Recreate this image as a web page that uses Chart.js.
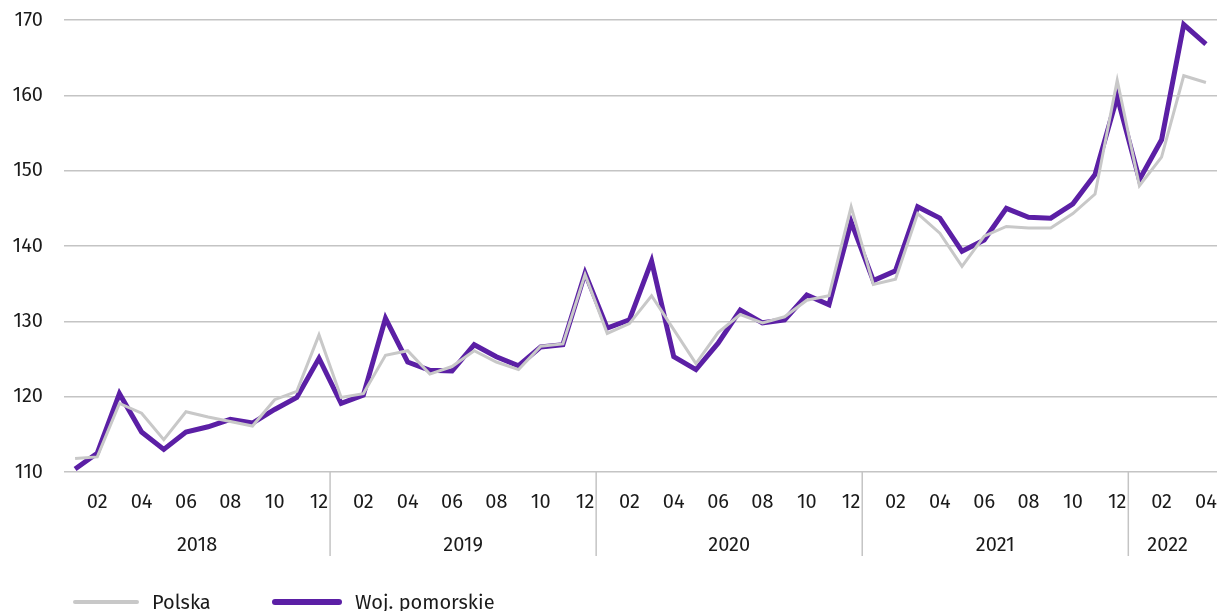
<!DOCTYPE html>
<html>
<head>
<meta charset="utf-8">
<script src="https://cdn.jsdelivr.net/npm/chart.js@4.4.1/dist/chart.umd.min.js"></script>
<style>
  html, body { margin: 0; padding: 0; background: #fff; overflow: hidden; }
  #wrap { position: relative; width: 1220px; height: 611px; }
  #legenda { position: absolute; left: 0; top: 587px; width: 1220px; height: 30px;
    font-family: "Fira Sans", "Noto Sans", sans-serif; font-size: 20px; color: #1a1a1a; }
  .poz { position: absolute; top: 0; display: flex; align-items: center; height: 30px; }
  .kreska { display: inline-block; border-radius: 3px; margin-right: 13px; }
</style>
</head>
<body>
<div id="wrap">
  <canvas id="wykres" width="1220" height="611"></canvas>
  <div id="legenda">
    <div class="poz" style="left:73px"><span class="kreska" style="width:66px;height:4px;background:#c8c8c8"></span>Polska</div>
    <div class="poz" style="left:272px"><span class="kreska" style="width:70px;height:6px;background:#5b1fa5"></span>Woj. pomorskie</div>
  </div>
</div>
<script>
// lata i liczba miesiecy w kazdym roku
const lata = ['2018', '2019', '2020', '2021', '2022'];
const miesiaceWRoku = [12, 12, 12, 12, 4];

// wartosci (01.2018 - 04.2022)
const polska = [
    111.8, 112.0, 119.1, 117.8, 114.3, 118.0, 117.3, 116.7, 116.1, 119.6, 120.7, 128.2,
    119.9, 120.4, 125.5, 126.1, 123.0, 124.0, 126.1, 124.6, 123.6, 126.7, 127.0, 136.2,
    128.4, 129.7, 133.4, 128.9, 124.4, 128.5, 130.9, 129.8, 130.6, 132.8, 133.4, 145.2,
    134.9, 135.6, 144.3, 141.7, 137.3, 141.3, 142.6, 142.4, 142.4, 144.3, 146.9, 162.0,
    148.0, 151.8, 162.6, 161.7
];
const pomorskie = [
    110.4, 112.5, 120.4, 115.3, 113.0, 115.3, 116.0, 117.0, 116.5, 118.3, 119.9, 125.1,
    119.1, 120.2, 130.4, 124.6, 123.5, 123.4, 126.9, 125.3, 124.1, 126.6, 126.9, 136.4,
    129.1, 130.2, 138.0, 125.3, 123.6, 127.1, 131.5, 129.8, 130.2, 133.5, 132.2, 143.2,
    135.4, 136.7, 145.2, 143.7, 139.3, 140.8, 145.0, 143.8, 143.7, 145.6, 149.5, 159.8,
    148.8, 154.1, 169.4, 166.8
];

// etykiety osi X: rok-miesiac
const etykiety = [];
lata.forEach((rok, i) => {
    for (let m = 1; m <= miesiaceWRoku[i]; m++) {
        etykiety.push(rok + '-' + String(m).padStart(2, '0'));
    }
});

const czcionka = { family: '"Fira Sans", "Noto Sans", sans-serif', size: 20 };
const kolorSiatki = '#c4c4c4';

// Lata pod osia X i pionowe separatory
const podpisyLat = {
    id: 'podpisyLat',
    afterDraw(chart) {
        const x = chart.scales.x;
        const ctx = chart.ctx;
        const gora = chart.chartArea.bottom;
        ctx.save();
        ctx.strokeStyle = kolorSiatki;
        ctx.lineWidth = 1.5;
        ctx.fillStyle = '#1a1a1a';
        ctx.font = czcionka.size + 'px ' + czcionka.family;
        ctx.textAlign = 'center';
        ctx.textBaseline = 'middle';
        let start = 0;
        let lewa = x.left;
        lata.forEach((rok, i) => {
            const koniec = start + miesiaceWRoku[i] - 1;
            let prawa = x.right;
            if (i < lata.length - 1) {
                prawa = (x.getPixelForValue(koniec) + x.getPixelForValue(koniec + 1)) / 2;
                ctx.beginPath();
                ctx.moveTo(prawa, gora);
                ctx.lineTo(prawa, gora + 84);
                ctx.stroke();
            }
            ctx.fillText(rok, (lewa + prawa) / 2 - (i === lata.length - 1 ? 5 : 0), gora + 73);
            lewa = prawa;
            start = koniec + 1;
        });
        ctx.restore();
    }
};

const ctx = document.getElementById('wykres').getContext('2d');
const wykres = new Chart(ctx, {
    type: 'line',
    data: {
        labels: etykiety,
        datasets: [
            {
                label: 'Polska',
                data: polska,
                borderColor: '#c8c8c8',
                borderWidth: 3,
                pointRadius: 0,
                tension: 0
            },
            {
                label: 'Woj. pomorskie',
                data: pomorskie,
                borderColor: '#5b1fa5',
                borderWidth: 5,
                pointRadius: 0,
                tension: 0
            }
        ]
    },
    options: {
        responsive: false,
        animation: false,
        layout: { autoPadding: false, padding: { top: 20, right: 3, left: 0, bottom: 0 } },
        plugins: {
            legend: { display: false },
            tooltip: { enabled: false }
        },
        scales: {
            x: {
                offset: true,
                grid: { display: false },
                border: { display: false },
                afterFit(scale) {
                    scale.height = 139;
                    scale.paddingLeft = 0;
                    scale.paddingRight = 0;
                },
                ticks: {
                    autoSkip: false,
                    maxRotation: 0,
                    padding: 10,
                    color: '#1a1a1a',
                    font: czcionka,
                    callback(value) {
                        const m = etykiety[value].slice(5);
                        return Number(m) % 2 === 0 ? m : '';
                    }
                }
            },
            y: {
                min: 110,
                max: 170,
                grid: { color: kolorSiatki, lineWidth: 1.5, drawTicks: false },
                border: { display: false },
                afterFit(scale) {
                    scale.width = 64;
                    scale.paddingTop = 0;
                    scale.paddingBottom = 0;
                },
                ticks: {
                    stepSize: 10,
                    padding: 21,
                    color: '#1a1a1a',
                    font: czcionka
                }
            }
        }
    },
    plugins: [podpisyLat]
});
</script>
</body>
</html>
